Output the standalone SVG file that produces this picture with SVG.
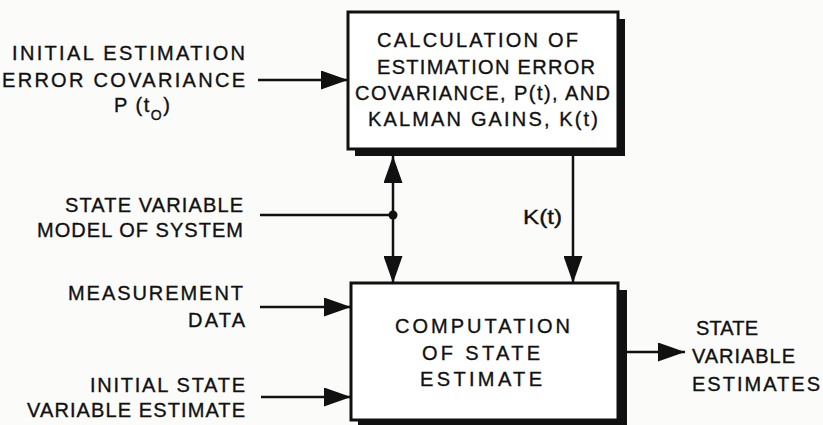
<svg xmlns="http://www.w3.org/2000/svg" width="823" height="425" viewBox="0 0 823 425">
<style>
text{font-family:"Liberation Sans",Arial,sans-serif;font-size:20px;fill:#111;stroke:#111;stroke-width:0.35;}
.box{fill:#fff;stroke:#111;stroke-width:3;}
.shadow{fill:#111;}
.line{stroke:#111;stroke-width:2.5;fill:none;}
</style>
<defs>
<marker id="ah" markerUnits="userSpaceOnUse" markerWidth="27" markerHeight="19" refX="27" refY="9.5" orient="auto-start-reverse" viewBox="0 0 27 19">
<path d="M0,0 L27,9.5 L0,19 z" fill="#111"/>
</marker>
</defs>
<rect width="823" height="425" fill="#fbfbf9"/>
<g id="connectors">
<line class="line" x1="258" y1="80" x2="348" y2="80" marker-end="url(#ah)"/>
<line class="line" x1="393" y1="156" x2="393" y2="283" marker-start="url(#ah)" marker-end="url(#ah)"/>
<line class="line" x1="260" y1="215" x2="393" y2="215"/>
<circle cx="393" cy="215" r="4.5" fill="#111"/>
<line class="line" x1="573" y1="156" x2="573" y2="283" marker-end="url(#ah)"/>
<text x="523" y="224" textLength="39" lengthAdjust="spacingAndGlyphs">K(t)</text>
<line class="line" x1="260" y1="307" x2="351" y2="307" marker-end="url(#ah)"/>
<line class="line" x1="261" y1="397" x2="351" y2="397" marker-end="url(#ah)"/>
<line class="line" x1="627" y1="352" x2="685" y2="352" marker-end="url(#ah)"/>
</g>
<g id="calc">
<rect class="shadow" x="355" y="19" width="270" height="137"/>
<rect class="box" x="348" y="12" width="270" height="137"/>
<text x="377" y="47" textLength="201" lengthAdjust="spacing">CALCULATION OF</text>
<text x="377" y="74" textLength="218" lengthAdjust="spacing">ESTIMATION ERROR</text>
<text x="355" y="100" textLength="255" lengthAdjust="spacing">COVARIANCE, P(t), AND</text>
<text x="368" y="126" textLength="230" lengthAdjust="spacing">KALMAN GAINS, K(t)</text>
</g>
<g id="compute">
<rect class="shadow" x="358" y="290" width="269" height="137"/>
<rect class="box" x="351" y="283" width="267" height="137"/>
<text x="395" y="333" textLength="175" lengthAdjust="spacing">COMPUTATION</text>
<text x="422" y="360" textLength="118" lengthAdjust="spacing">OF STATE</text>
<text x="420" y="386" textLength="122" lengthAdjust="spacing">ESTIMATE</text>
</g>
<g id="in-cov">
<text x="12" y="60" textLength="233" lengthAdjust="spacing">INITIAL ESTIMATION</text>
<text x="2" y="87" textLength="243" lengthAdjust="spacing">ERROR COVARIANCE</text>
<text x="114" y="112" letter-spacing="1.5">P (t<tspan font-size="14" dy="8">O</tspan><tspan dy="-8">)</tspan></text>
</g>
<g id="in-model">
<text x="65" y="212" textLength="178" lengthAdjust="spacing">STATE VARIABLE</text>
<text x="37" y="237" textLength="206" lengthAdjust="spacing">MODEL OF SYSTEM</text>
</g>
<g id="in-meas">
<text x="68" y="300" textLength="175" lengthAdjust="spacing">MEASUREMENT</text>
<text x="188" y="327" textLength="57" lengthAdjust="spacing">DATA</text>
</g>
<g id="in-init">
<text x="90" y="392" textLength="155" lengthAdjust="spacing">INITIAL STATE</text>
<text x="27" y="417" textLength="218" lengthAdjust="spacing">VARIABLE ESTIMATE</text>
</g>
<g id="out">
<text x="696" y="335" textLength="62" lengthAdjust="spacing">STATE</text>
<text x="692" y="363" textLength="103" lengthAdjust="spacing">VARIABLE</text>
<text x="692" y="391" textLength="128" lengthAdjust="spacing">ESTIMATES</text>
</g>
</svg>
